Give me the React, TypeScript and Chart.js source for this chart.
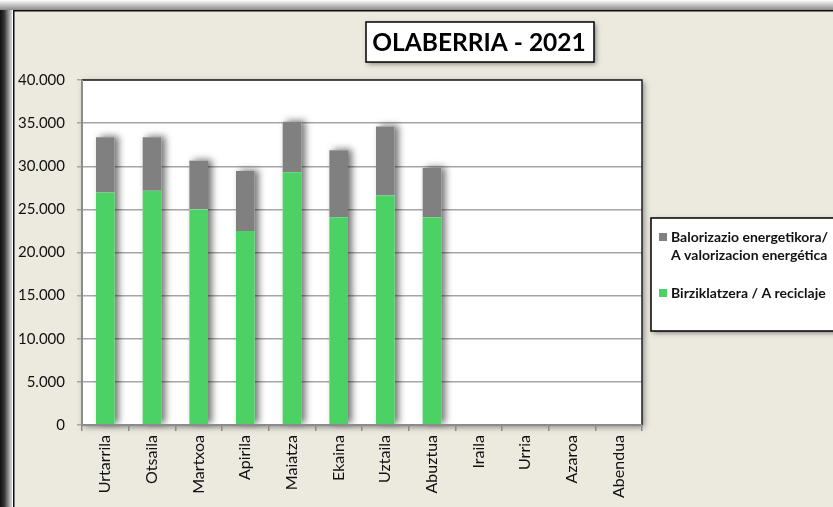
import React, { useEffect, useRef } from "react";
import { Chart, registerables } from "chart.js";

Chart.register(...registerables);

const TITLE = "OLABERRIA - 2021";
const MONTHS = ["Urtarrila", "Otsaila", "Martxoa", "Apirila", "Maiatza", "Ekaina", "Uztaila", "Abuztua", "Iraila", "Urria", "Azaroa", "Abendua"];
const RECICLAJE = [26950, 27150, 25000, 22500, 29300, 24100, 26600, 24100, null, null, null, null];
const VALORIZACION = [6400, 6200, 5650, 6950, 5850, 7750, 8000, 5700, null, null, null, null];
const RECICLAJE_LABEL = ["Birziklatzera / A reciclaje"];
const VALORIZACION_LABEL = ["Balorizazio energetikora/", "A valorizacion energética"];
const Y_MIN = 0;
const Y_MAX = 40000;
const Y_STEP = 5000;

const GREEN = "#4CD264";
const GRAY = "#808080";
const BEIGE = "#ECE9DF";
const FONT = "Lato, 'Open Sans', sans-serif";

function fmt(v: number) {
  return String(Math.round(v)).replace(/\B(?=(\d{3})+(?!\d))/g, ".");
}

const framePlugin = {
  id: "frame",
  beforeDraw(chart: any) {
    const { ctx, width, height, chartArea: a } = chart;
    ctx.save();
    ctx.fillStyle = BEIGE;
    ctx.fillRect(0, 0, width, height);
    let g = ctx.createLinearGradient(0, 0, 0, 10);
    g.addColorStop(0, "#ffffff");
    g.addColorStop(1, "#8a8a8a");
    ctx.fillStyle = g;
    ctx.fillRect(0, 0, width, 10);
    g = ctx.createLinearGradient(0, 0, 12, 0);
    g.addColorStop(0, "#111111");
    g.addColorStop(0.35, "#333333");
    g.addColorStop(1, "#dcdcdc");
    ctx.fillStyle = g;
    ctx.fillRect(0, 10, 12, height - 10);
    ctx.fillStyle = "#ffffff";
    ctx.fillRect(12, 10, 1, height - 10);
    ctx.fillStyle = "#111111";
    ctx.fillRect(13, 10, width - 13, 1.5);
    ctx.fillRect(13, 10, 1.5, height - 10);

    ctx.save();
    ctx.shadowColor = "rgba(0,0,0,0.45)";
    ctx.shadowBlur = 6;
    ctx.shadowOffsetX = 2;
    ctx.shadowOffsetY = 2;
    ctx.fillStyle = "#ffffff";
    ctx.fillRect(a.left, a.top, a.right - a.left, a.bottom - a.top);
    ctx.restore();

    const tx = 366, ty = 22, tw = 228, th = 40;
    ctx.save();
    ctx.shadowColor = "rgba(0,0,0,0.45)";
    ctx.shadowBlur = 5;
    ctx.shadowOffsetX = 2;
    ctx.shadowOffsetY = 2;
    ctx.fillStyle = "#ffffff";
    ctx.fillRect(tx, ty, tw, th);
    ctx.restore();
    ctx.strokeStyle = "#000000";
    ctx.lineWidth = 1.5;
    ctx.strokeRect(tx, ty, tw, th);
    ctx.fillStyle = "#000000";
    ctx.font = `bold 24.5px ${FONT}`;
    ctx.textAlign = "center";
    ctx.textBaseline = "middle";
    ctx.fillText(TITLE, tx + tw / 2 - 1, ty + th / 2 + 1);

    const lx = 651, ly = 218, lw = 200, lh = 113;
    ctx.save();
    ctx.shadowColor = "rgba(0,0,0,0.45)";
    ctx.shadowBlur = 5;
    ctx.shadowOffsetX = 2;
    ctx.shadowOffsetY = 2;
    ctx.fillStyle = "#ffffff";
    ctx.fillRect(lx, ly, lw, lh);
    ctx.restore();
    ctx.strokeStyle = "#000000";
    ctx.lineWidth = 1.5;
    ctx.strokeRect(lx, ly, lw, lh);

    ctx.font = `bold 14px ${FONT}`;
    ctx.textAlign = "left";
    ctx.textBaseline = "middle";
    const items = [
      { color: GRAY, lines: VALORIZACION_LABEL, y: 237 },
      { color: GREEN, lines: RECICLAJE_LABEL, y: 293 },
    ];
    items.forEach((it) => {
      ctx.fillStyle = it.color;
      ctx.fillRect(659, it.y - 4, 8, 8);
      ctx.fillStyle = "#111111";
      it.lines.forEach((ln, i) => ctx.fillText(ln, 671, it.y + i * 18));
    });
    ctx.restore();
  },
  beforeDatasetsDraw(chart: any) {
    const { ctx } = chart;
    const m0 = chart.getDatasetMeta(0);
    const m1 = chart.getDatasetMeta(1);
    ctx.save();
    ctx.shadowColor = "rgba(0,0,0,0.55)";
    ctx.shadowBlur = 7;
    ctx.shadowOffsetX = 4;
    ctx.shadowOffsetY = -1;
    ctx.fillStyle = "#ffffff";
    m1.data.forEach((el: any, i: number) => {
      const b = m0.data[i] as any;
      if (VALORIZACION[i] == null || !el || !b) return;
      const w = el.width;
      ctx.fillRect(el.x - w / 2, el.y, w, b.base - el.y);
    });
    ctx.restore();
  },
  afterDraw(chart: any) {
    const { ctx, chartArea: a } = chart;
    ctx.save();
    ctx.strokeStyle = "#222222";
    ctx.lineWidth = 1.5;
    ctx.beginPath();
    ctx.moveTo(a.left, a.top);
    ctx.lineTo(a.right, a.top);
    ctx.lineTo(a.right, a.bottom);
    ctx.stroke();
    ctx.strokeStyle = "#8c8c8c";
    ctx.lineWidth = 2;
    ctx.beginPath();
    ctx.moveTo(a.left, a.top);
    ctx.lineTo(a.left, a.bottom);
    ctx.lineTo(a.right, a.bottom);
    ctx.stroke();
    ctx.restore();
  },
};

export default function App() {
  const ref = useRef<HTMLCanvasElement | null>(null);
  useEffect(() => {
    if (!ref.current) return;
    const chart = new Chart(ref.current, {
      type: "bar",
      data: {
        labels: MONTHS,
        datasets: [
          { label: RECICLAJE_LABEL.join(" "), data: RECICLAJE, backgroundColor: GREEN, barPercentage: 0.4, categoryPercentage: 1 },
          { label: VALORIZACION_LABEL.join(" "), data: VALORIZACION, backgroundColor: GRAY, barPercentage: 0.4, categoryPercentage: 1 },
        ],
      },
      options: {
        responsive: false,
        animation: false,
        devicePixelRatio: 1,
        layout: { padding: { left: 0, top: 80, right: 191, bottom: 0 } },
        plugins: { legend: { display: false }, tooltip: { enabled: false }, title: { display: false } },
        scales: {
          x: {
            stacked: true,
            grid: { display: true, drawOnChartArea: false, drawTicks: true, tickLength: 6, color: "#8c8c8c", lineWidth: 1.5, offset: true },
            border: { display: false },
            ticks: { minRotation: 90, maxRotation: 90, autoSkip: false, padding: 4, color: "#111111", font: { family: FONT, size: 16 } },
            afterFit: (s: any) => { s.height = 82; },
          },
          y: {
            stacked: true,
            min: Y_MIN,
            max: Y_MAX,
            ticks: { stepSize: Y_STEP, padding: 12, color: "#111111", font: { family: FONT, size: 15 }, callback: (v: any) => fmt(Number(v)) },
            grid: { color: "#a6a6a6", lineWidth: 1.5, tickLength: 5, drawTicks: true },
            border: { display: false },
            afterFit: (s: any) => { s.width = 82; },
          },
        },
      },
      plugins: [framePlugin],
    });
    return () => chart.destroy();
  }, []);
  return (
    <div style={{ position: "absolute", left: 0, top: 0, width: 833, height: 507 }}>
      <canvas ref={ref} width={833} height={507} style={{ width: 833, height: 507, display: "block" }} />
    </div>
  );
}
